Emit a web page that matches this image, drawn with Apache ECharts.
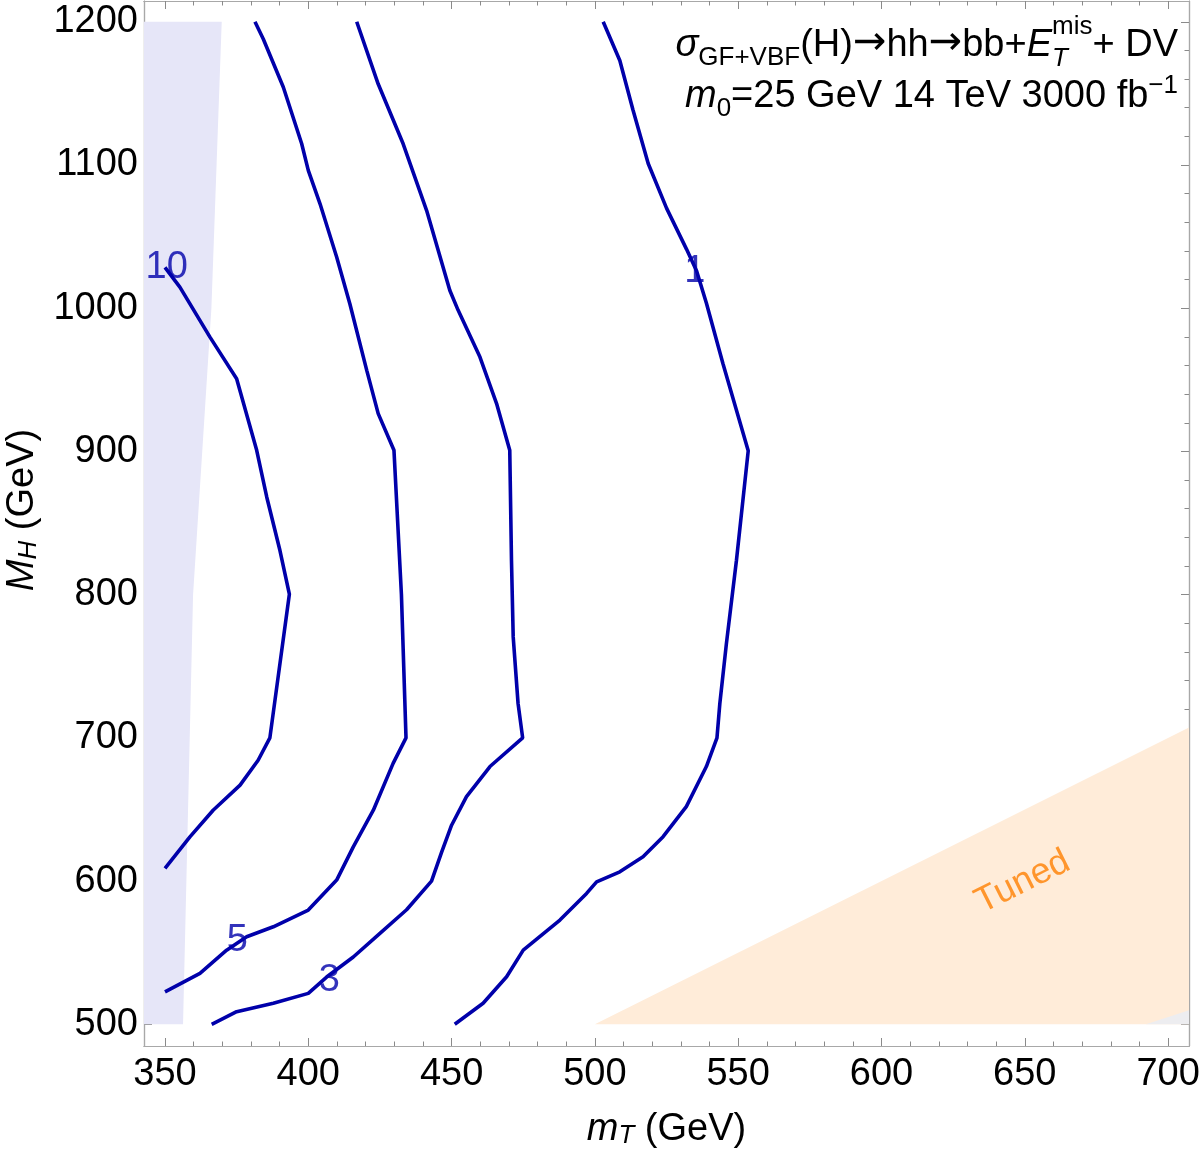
<!DOCTYPE html>
<html><head><meta charset="utf-8">
<script src="https://cdn.jsdelivr.net/npm/echarts@6/dist/echarts.min.js"></script>
<style>html,body{margin:0;padding:0;background:#fff}#c{width:1200px;height:1150px}</style>
</head><body><div id="c"></div>
<script>
// ---------------- data ----------------
const xMajor = [350,400,450,500,550,600,650,700];
const xMinor = [350,360,370,380,390,400,410,420,430,440,450,460,470,480,490,500,510,520,530,540,550,560,570,580,590,600,610,620,630,640,650,660,670,680,690,700];
const yMajor = [500,600,700,800,900,1000,1100,1200];
const yMinor = [500,520,540,560,580,600,620,640,660,680,700,720,740,760,780,800,820,840,860,880,900,920,940,960,980,1000,1020,1040,1060,1080,1100,1120,1140,1160,1180,1200];

// contour "10"
const c10 = [[350,1028.5],[355.2,1014.7],[365.7,979.8],[375.0,950.8],[382.0,900.8],[385.5,868.2],[390.1,831],[393.4,800.3],[386.6,700],[382.5,684.4],[376.2,667],[366.8,649.5],[358.7,630.9],[350,608.9]];
// contour "5"
const c5 = [[381.4,1200],[384.3,1188],[391.3,1154.3],[397.7,1114.8],[400,1096.2],[404.1,1072.9],[409.9,1035.7],[414.5,1003.1],[420.4,956.6],[424.4,926.4],[429.9,900.8],[432.5,800],[434.1,700],[429.6,682.2],[422.7,649.5],[415.7,623.9],[409.9,600.7],[400,579.8],[387.8,568.1],[378.5,561.1],[371.5,551.8],[362.2,535.6],[350,522.7]];
// contour "3"
const c3 = [[416.9,1200],[424.4,1156.5],[433.1,1114.8],[441.3,1068.2],[449.4,1012.4],[452.3,998.5],[459.9,965.9],[465.7,933.4],[470.3,900.8],[470.9,824],[471.5,770.5],[473.2,724],[474.8,700],[463.4,680],[455.2,659],[450,639],[446.5,620],[443,600],[434.3,580],[425,563.5],[415.7,547],[406.4,533],[400,521.6],[387.8,514.7],[375,508.8],[366.3,500]];
// contour "1"
const c1 = [[502.9,1200],[508.7,1173],[513.3,1138.4],[518.6,1101],[525,1069.9],[532,1041.1],[535.5,1026],[538.9,1003.6],[544.7,961.2],[549.4,928.8],[553.5,900.4],[549.4,824],[545.9,766],[543.6,724],[542.6,700],[538.9,680],[531.9,652],[523.8,631],[516.8,617],[508.7,606.5],[500.6,599.5],[497.1,591.4],[487.8,572.8],[475,551.8],[469.2,533.2],[461,514.7],[451.1,500]];

// contour labels [x, y, text]
const contourLabels = [[350.6,1028.1,'10'],[375.2,558.3,'5'],[407.3,530.9,'3'],[534.9,1025.8,'1']];

// excluded band (blue) boundary
const bandX = [342.68,356.3,359.8,366.2,369.8,342.68];
const bandY = [500,500,800,1000,1200,1200];
// tuned region (orange)
const tunedX = [500,707.3,707.3];
const tunedY = [500,707.3,500];
// small overlap region (grey)
const greyX = [692.3,707.3,707.3];
const greyY = [500,500,509.8];
const tunedLabel = [[649.3,599.3,'Tuned']];

// ---------------- style ----------------
const FONT = "'Liberation Sans', Arial, sans-serif";
const ARROWFONT = "'DejaVu Sans', sans-serif";
const X_MIN = 342.68, X_MAX = 707.3, Y_MIN = 484.86, Y_MAX = 1214.5;
const AX = '#a8a8a8', TK = '#8a8a8a';
const LINE = '#0000aa';
const FS = 38;

function xAx(pos, ticks, len, withLabels, extra) {
  return Object.assign({
    type:'value', gridIndex:0, position:pos, min:X_MIN, max:X_MAX,
    axisLine:{show:true, onZero:false, lineStyle:{color:AX, width:1.2}},
    axisTick:{show:true, inside:true, length:len, customValues:ticks, lineStyle:{color:TK, width:1}},
    axisLabel: withLabels ? {show:true, customValues:xMajor, formatter:v=>String(Math.round(v)), fontSize:FS, fontFamily:FONT, color:'#000', margin:10} : {show:false},
    splitLine:{show:false}
  }, extra||{});
}
function yAx(pos, ticks, len, withLabels, extra) {
  return Object.assign({
    type:'value', gridIndex:0, position:pos, min:Y_MIN, max:Y_MAX,
    axisLine:{show:true, onZero:false, lineStyle:{color:AX, width:1.2}},
    axisTick:{show:true, inside:true, length:len, customValues:ticks, lineStyle:{color:TK, width:1}},
    axisLabel: withLabels ? {show:true, customValues:yMajor, formatter:v=>String(Math.round(v)), fontSize:FS, fontFamily:FONT, color:'#000', margin:6} : {show:false},
    splitLine:{show:false}
  }, extra||{});
}

function polyItem(xs, ys, color) {
  return function (params, api) {
    const pts = xs.map((x,i) => api.coord([x, ys[i]]));
    return {type:'polygon', shape:{points:pts}, style:{fill:color}};
  };
}

// ---------- title layout ----------
const cv = document.createElement('canvas').getContext('2d');
function fnt(size, it, fam){ return (it?'italic ':'') + size + 'px ' + (fam||FONT); }
function tw(p){ cv.font = fnt(p.size,p.it,p.fam); return cv.measureText(p.t).width; }
function lineEls(parts, right, base) {
  let total = 0;
  parts.forEach(p => {
    p.w = p.stack ? Math.max(...p.stack.map(s => tw(s))) : tw(p);
    total += p.w;
  });
  let x = right - total;
  const els = [];
  parts.forEach(p => {
    (p.stack || [p]).forEach(s => {
      els.push({type:'text', x:x, y: base + (s.dy||0) - 0.35*s.size, z:100,
        style:{text:s.t, font:fnt(s.size, s.it, s.fam), fill:'#000', align:'left', verticalAlign:'middle'}});
    });
    x += p.w;
  });
  return els;
}
const S = 38, s = 26;
const title1 = lineEls([
  {t:'σ', size:S, it:true},
  {t:'GF+VBF', size:s, dy:8},
  {t:'(H)', size:S},
  {t:'→', size:40, fam:ARROWFONT, dy:-1},
  {t:'hh', size:S},
  {t:'→', size:40, fam:ARROWFONT, dy:-1},
  {t:'bb+', size:S},
  {t:'E', size:S, it:true},
  {stack:[{t:'T', size:s, it:true, dy:9},{t:'mis', size:s, dy:-23}]},
  {t:'+ DV', size:S}
], 1178, 59);
const title2 = lineEls([
  {t:'m', size:S, it:true},
  {t:'0', size:s, dy:8},
  {t:'=25 GeV 14 TeV 3000 fb', size:S},
  {t:'−1', size:s, dy:-15}
], 1178, 110);

const chart = echarts.init(document.getElementById('c'), null, {renderer:'canvas'});
chart.setOption({
  animation:false,
  backgroundColor:'#fff',
  grid:{left:144, right:11, top:1, bottom:104, containLabel:false, outerBoundsMode:'none'},
  xAxis:[
    xAx('bottom', xMajor, 8, true, {
      name:'{i|m}{s|T} (GeV)', nameLocation:'middle', nameGap:64,
      nameTextStyle:{fontSize:FS, fontFamily:FONT, color:'#000',
        rich:{i:{fontSize:FS, fontStyle:'italic', fontFamily:FONT, color:'#000'},
              s:{fontSize:26, fontStyle:'italic', fontFamily:FONT, color:'#000', verticalAlign:'bottom', padding:[13,0,0,0]}}}
    }),
    xAx('bottom', xMinor, 4.5, false),
    xAx('top', xMajor, 8, false),
    xAx('top', xMinor, 4.5, false)
  ],
  yAxis:[
    yAx('left', yMajor, 8, true, {
      name:'{i|M}{s|H} (GeV)', nameLocation:'middle', nameGap:102,
      nameTextStyle:{fontSize:FS, fontFamily:FONT, color:'#000', padding:[0,0,0,27],
        rich:{i:{fontSize:FS, fontStyle:'italic', fontFamily:FONT, color:'#000'},
              s:{fontSize:26, fontStyle:'italic', fontFamily:FONT, color:'#000', verticalAlign:'bottom', padding:[13,0,0,0]}}}
    }),
    yAx('left', yMinor, 4.5, false),
    yAx('right', yMajor, 8, false),
    yAx('right', yMinor, 4.5, false)
  ],
  graphic: title1.concat(title2),
  series:[
    {type:'custom', xAxisIndex:0, yAxisIndex:0, data:[0], renderItem:polyItem(bandX, bandY, '#e6e6f8'), z:1, silent:true},
    {type:'custom', xAxisIndex:0, yAxisIndex:0, data:[0], renderItem:polyItem(tunedX, tunedY, '#ffecd9'), z:1, silent:true},
    {type:'custom', xAxisIndex:0, yAxisIndex:0, data:[0], renderItem:polyItem(greyX, greyY, '#ededf0'), z:1, silent:true},
    {type:'line', data:c10, showSymbol:false, symbol:'none', lineStyle:{color:LINE, width:3.6}, z:3},
    {type:'line', data:c5, showSymbol:false, symbol:'none', lineStyle:{color:LINE, width:3.6}, z:3},
    {type:'line', data:c3, showSymbol:false, symbol:'none', lineStyle:{color:LINE, width:3.6}, z:3},
    {type:'line', data:c1, showSymbol:false, symbol:'none', lineStyle:{color:LINE, width:3.6}, z:3},
    {type:'scatter', data:contourLabels, symbolSize:0, z:5,
      label:{show:true, position:'inside', formatter:p=>p.value[2], fontSize:FS, fontFamily:FONT, color:'#0000aa'}},
    {type:'scatter', data:tunedLabel, symbolSize:0, z:5,
      label:{show:true, position:'inside', rotate:26.5, formatter:p=>p.value[2], fontSize:36, fontFamily:FONT, color:'#ff8000'}}
  ]
});
</script></body></html>
